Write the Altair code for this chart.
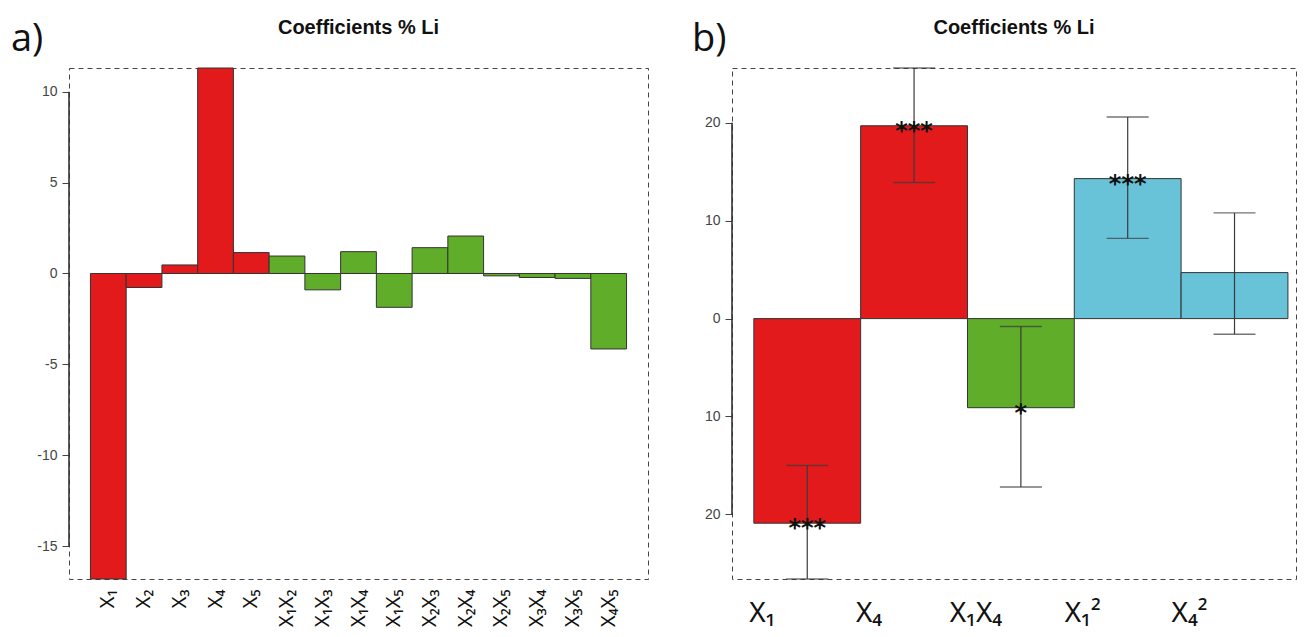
import altair as alt
import pandas as pd

# ---------------- data ----------------
a_terms = ["X₁", "X₂", "X₃", "X₄", "X₅", "X₁X₂", "X₁X₃", "X₁X₄", "X₁X₅",
           "X₂X₃", "X₂X₄", "X₂X₅", "X₃X₄", "X₃X₅", "X₄X₅"]
a_coef = [-16.8, -0.77, 0.47, 11.3, 1.15, 0.96, -0.9, 1.2, -1.86,
          1.42, 2.06, -0.13, -0.22, -0.27, -4.15]
a_group = ["main"] * 5 + ["interaction"] * 10
a_ticks = [-15, -10, -5, 0, 5, 10]

b_terms = ["X₁", "X₄", "X₁X₄", "X₁²", "X₄²"]
b_coef = [-20.9, 19.7, -9.1, 14.3, 4.7]
b_low = [-26.6, 13.9, -17.2, 8.2, -1.6]
b_high = [-15.0, 25.6, -0.8, 20.6, 10.8]
b_stars = ["***", "***", "*", "***", ""]
b_group = ["main", "main", "interaction", "quadratic", "quadratic"]
b_ticks = [-20, -10, 0, 10, 20]

groups = ["main", "interaction", "quadratic"]
group_colors = ["#E31A1C", "#60AD29", "#69C3D8"]

title_text = "Coefficients % Li"
panel_labels = ["a)", "b)"]

# ---------------- styles ----------------
AXIS_COL = "#444444"
W_A, W_B, H = 579, 564, 511
color_scale = alt.Scale(domain=groups, range=group_colors)

df_a = pd.DataFrame({"term": a_terms, "coef": a_coef, "group": a_group})
df_b = pd.DataFrame({"term": b_terms, "coef": b_coef, "low": b_low,
                     "high": b_high, "stars": b_stars, "group": b_group})


def title_mark(width):
    return alt.Chart(pd.DataFrame({"t": [title_text]})).mark_text(
        align="center", baseline="alphabetic", font="Liberation Sans",
        fontSize=20, fontWeight="bold", color="#111111").encode(
        x=alt.value(width / 2), y=alt.value(-34), text="t:N")


def panel_mark(label, xoff):
    return alt.Chart(pd.DataFrame({"t": [label]})).mark_text(
        align="left", baseline="alphabetic", font="Open Sans", fontSize=38,
        color="#111111").encode(x=alt.value(xoff), y=alt.value(-17), text="t:N")


def axis_line(lo, hi, yscale):
    return alt.Chart(pd.DataFrame({"lo": [lo], "hi": [hi]})).mark_rule(
        color="#333333", strokeWidth=1.6).encode(
        x=alt.value(0),
        y=alt.Y("hi:Q", scale=yscale, title=None),
        y2=alt.Y2("lo:Q"),
    )


# ---------------- panel a ----------------
ya = alt.Scale(domain=[min(a_coef), max(a_coef)], nice=False, zero=False)
xa = alt.Scale(domain=a_terms, paddingInner=0, paddingOuter=0.6)

bars_a = alt.Chart(df_a).mark_bar(stroke="#333333", strokeWidth=1).encode(
    x=alt.X("term:N", scale=xa, sort=a_terms,
            axis=alt.Axis(title=None, labelAngle=270, ticks=False, domain=False,
                          labelFont="Noto Sans", labelFontSize=20,
                          labelColor="#111111", labelPadding=10)),
    y=alt.Y("coef:Q", scale=ya,
            axis=alt.Axis(title=None, values=a_ticks, grid=False, domain=False,
                          tickSize=7, tickColor=AXIS_COL, labelColor=AXIS_COL,
                          labelFont="Liberation Sans", labelFontSize=14,
                          labelPadding=5, labelExpr="'' + datum.value")),
    y2=alt.datum(0),
    color=alt.Color("group:N", scale=color_scale, legend=None),
)

chart_a = alt.layer(bars_a, axis_line(min(a_ticks), max(a_ticks), ya),
                    title_mark(W_A), panel_mark(panel_labels[0], -58)
                    ).properties(width=W_A, height=H)

# ---------------- panel b ----------------
yb = alt.Scale(domain=[min(b_low), max(b_high)], nice=False, zero=False)
xb = alt.Scale(domain=b_terms, paddingInner=0, paddingOuter=0.14, align=0.73)

xb_enc = alt.X("term:N", scale=xb, sort=b_terms,
               axis=alt.Axis(title=None, labelAngle=0, ticks=False, domain=False,
                             labelFont="Noto Sans", labelFontSize=28,
                             labelColor="#111111", labelPadding=20,
                             labelOffset=-45))

bars_b = alt.Chart(df_b).mark_bar(stroke="#333333", strokeWidth=1).encode(
    x=xb_enc,
    y=alt.Y("coef:Q", scale=yb,
            axis=alt.Axis(title=None, values=b_ticks, grid=False, domain=False,
                          tickSize=7, tickColor=AXIS_COL, labelColor=AXIS_COL,
                          labelFont="Liberation Sans", labelFontSize=14,
                          labelPadding=5,
                          labelExpr="'' + abs(datum.value)")),
    y2=alt.datum(0),
    color=alt.Color("group:N", scale=color_scale, legend=None),
)

err_b = alt.Chart(df_b).mark_rule(color="#3a3a3a", strokeWidth=1.2).encode(
    x=alt.X("term:N", scale=xb, sort=b_terms),
    y=alt.Y("low:Q", scale=yb, title=None),
    y2="high:Q",
)
cap_lo = alt.Chart(df_b).mark_tick(color="#3a3a3a", size=42, thickness=1.4).encode(
    x=alt.X("term:N", scale=xb, sort=b_terms),
    y=alt.Y("low:Q", scale=yb, title=None),
)
cap_hi = alt.Chart(df_b).mark_tick(color="#3a3a3a", size=42, thickness=1.4).encode(
    x=alt.X("term:N", scale=xb, sort=b_terms),
    y=alt.Y("high:Q", scale=yb, title=None),
)
stars_b = alt.Chart(df_b).mark_text(
    font="DejaVu Sans", fontSize=24, fontWeight="bold", baseline="alphabetic",
    dy=13, color="#111111").encode(
    x=alt.X("term:N", scale=xb, sort=b_terms),
    y=alt.Y("coef:Q", scale=yb, title=None),
    text="stars:N",
)

chart_b = alt.layer(bars_b, err_b, cap_lo, cap_hi, stars_b,
                    axis_line(min(b_ticks), max(b_ticks), yb),
                    title_mark(W_B), panel_mark(panel_labels[1], -40)
                    ).properties(width=W_B, height=H)

chart = alt.hconcat(chart_a, chart_b, spacing=42).properties(
    padding={"left": 2, "top": 9, "right": 0, "bottom": 0}
).configure(
    background="white",
    view=alt.ViewConfig(stroke=AXIS_COL, strokeDash=[5, 4], strokeWidth=1),
)

chart.save("out.html", embed_options={"renderer": "svg", "actions": False})
